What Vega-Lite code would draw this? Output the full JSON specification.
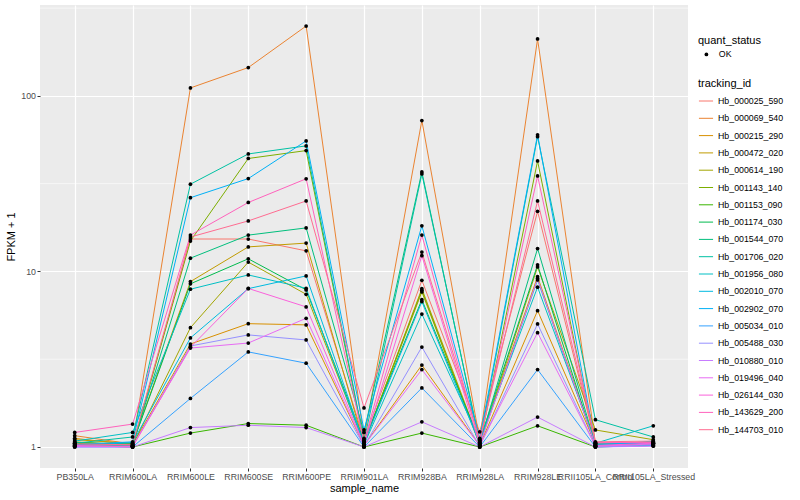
{
"$schema": "https://vega.github.io/schema/vega-lite/v6.json",
"width": 648, "height": 463,
"autosize": {"type": "none"},
"padding": {"left": 40, "top": 5, "right": 112, "bottom": 32},
"background": "white",
"config": {
 "view": {"fill": "#EBEBEB", "stroke": null},
 "font": "Liberation Sans",
 "axis": {"gridColor": "white", "gridWidth": 1.2, "domain": false, "tickColor": "#333333", "tickSize": 3, "labelColor": "#4D4D4D", "labelFontSize": 8.8, "titleFontSize": 11, "titleFontWeight": "normal", "titleColor": "black", "labelPadding": 1.5},
 "legend": {"titleFontSize": 11, "titleFontWeight": "normal", "titleColor": "black", "labelFontSize": 8.8, "labelColor": "black"}
},
"data": {"values": [
{"tracking_id":"Hb_000025_590","sample_name":"PB350LA","fpkm_plus_1":1.04,"quant_status":"OK"},
{"tracking_id":"Hb_000025_590","sample_name":"RRIM600LA","fpkm_plus_1":1.02,"quant_status":"OK"},
{"tracking_id":"Hb_000025_590","sample_name":"RRIM600LE","fpkm_plus_1":15.3,"quant_status":"OK"},
{"tracking_id":"Hb_000025_590","sample_name":"RRIM600SE","fpkm_plus_1":15.3,"quant_status":"OK"},
{"tracking_id":"Hb_000025_590","sample_name":"RRIM600PE","fpkm_plus_1":13.1,"quant_status":"OK"},
{"tracking_id":"Hb_000025_590","sample_name":"RRIM901LA","fpkm_plus_1":1.10,"quant_status":"OK"},
{"tracking_id":"Hb_000025_590","sample_name":"RRIM928BA","fpkm_plus_1":8.9,"quant_status":"OK"},
{"tracking_id":"Hb_000025_590","sample_name":"RRIM928LA","fpkm_plus_1":1.22,"quant_status":"OK"},
{"tracking_id":"Hb_000025_590","sample_name":"RRIM928LE","fpkm_plus_1":22.0,"quant_status":"OK"},
{"tracking_id":"Hb_000025_590","sample_name":"RRII105LA_Control","fpkm_plus_1":1.05,"quant_status":"OK"},
{"tracking_id":"Hb_000025_590","sample_name":"RRII105LA_Stressed","fpkm_plus_1":1.06,"quant_status":"OK"},
{"tracking_id":"Hb_000069_540","sample_name":"PB350LA","fpkm_plus_1":1.16,"quant_status":"OK"},
{"tracking_id":"Hb_000069_540","sample_name":"RRIM600LA","fpkm_plus_1":1.04,"quant_status":"OK"},
{"tracking_id":"Hb_000069_540","sample_name":"RRIM600LE","fpkm_plus_1":111,"quant_status":"OK"},
{"tracking_id":"Hb_000069_540","sample_name":"RRIM600SE","fpkm_plus_1":145,"quant_status":"OK"},
{"tracking_id":"Hb_000069_540","sample_name":"RRIM600PE","fpkm_plus_1":250,"quant_status":"OK"},
{"tracking_id":"Hb_000069_540","sample_name":"RRIM901LA","fpkm_plus_1":1.12,"quant_status":"OK"},
{"tracking_id":"Hb_000069_540","sample_name":"RRIM928BA","fpkm_plus_1":72.4,"quant_status":"OK"},
{"tracking_id":"Hb_000069_540","sample_name":"RRIM928LA","fpkm_plus_1":1.10,"quant_status":"OK"},
{"tracking_id":"Hb_000069_540","sample_name":"RRIM928LE","fpkm_plus_1":211,"quant_status":"OK"},
{"tracking_id":"Hb_000069_540","sample_name":"RRII105LA_Control","fpkm_plus_1":1.06,"quant_status":"OK"},
{"tracking_id":"Hb_000069_540","sample_name":"RRII105LA_Stressed","fpkm_plus_1":1.04,"quant_status":"OK"},
{"tracking_id":"Hb_000215_290","sample_name":"PB350LA","fpkm_plus_1":1.12,"quant_status":"OK"},
{"tracking_id":"Hb_000215_290","sample_name":"RRIM600LA","fpkm_plus_1":1.03,"quant_status":"OK"},
{"tracking_id":"Hb_000215_290","sample_name":"RRIM600LE","fpkm_plus_1":3.86,"quant_status":"OK"},
{"tracking_id":"Hb_000215_290","sample_name":"RRIM600SE","fpkm_plus_1":5.04,"quant_status":"OK"},
{"tracking_id":"Hb_000215_290","sample_name":"RRIM600PE","fpkm_plus_1":4.96,"quant_status":"OK"},
{"tracking_id":"Hb_000215_290","sample_name":"RRIM901LA","fpkm_plus_1":1.02,"quant_status":"OK"},
{"tracking_id":"Hb_000215_290","sample_name":"RRIM928BA","fpkm_plus_1":2.93,"quant_status":"OK"},
{"tracking_id":"Hb_000215_290","sample_name":"RRIM928LA","fpkm_plus_1":1.02,"quant_status":"OK"},
{"tracking_id":"Hb_000215_290","sample_name":"RRIM928LE","fpkm_plus_1":5.98,"quant_status":"OK"},
{"tracking_id":"Hb_000215_290","sample_name":"RRII105LA_Control","fpkm_plus_1":1.04,"quant_status":"OK"},
{"tracking_id":"Hb_000215_290","sample_name":"RRII105LA_Stressed","fpkm_plus_1":1.03,"quant_status":"OK"},
{"tracking_id":"Hb_000472_020","sample_name":"PB350LA","fpkm_plus_1":1.10,"quant_status":"OK"},
{"tracking_id":"Hb_000472_020","sample_name":"RRIM600LA","fpkm_plus_1":1.05,"quant_status":"OK"},
{"tracking_id":"Hb_000472_020","sample_name":"RRIM600LE","fpkm_plus_1":8.75,"quant_status":"OK"},
{"tracking_id":"Hb_000472_020","sample_name":"RRIM600SE","fpkm_plus_1":13.8,"quant_status":"OK"},
{"tracking_id":"Hb_000472_020","sample_name":"RRIM600PE","fpkm_plus_1":14.5,"quant_status":"OK"},
{"tracking_id":"Hb_000472_020","sample_name":"RRIM901LA","fpkm_plus_1":1.04,"quant_status":"OK"},
{"tracking_id":"Hb_000472_020","sample_name":"RRIM928BA","fpkm_plus_1":7.98,"quant_status":"OK"},
{"tracking_id":"Hb_000472_020","sample_name":"RRIM928LA","fpkm_plus_1":1.06,"quant_status":"OK"},
{"tracking_id":"Hb_000472_020","sample_name":"RRIM928LE","fpkm_plus_1":9.34,"quant_status":"OK"},
{"tracking_id":"Hb_000472_020","sample_name":"RRII105LA_Control","fpkm_plus_1":1.03,"quant_status":"OK"},
{"tracking_id":"Hb_000472_020","sample_name":"RRII105LA_Stressed","fpkm_plus_1":1.05,"quant_status":"OK"},
{"tracking_id":"Hb_000614_190","sample_name":"PB350LA","fpkm_plus_1":1.07,"quant_status":"OK"},
{"tracking_id":"Hb_000614_190","sample_name":"RRIM600LA","fpkm_plus_1":1.02,"quant_status":"OK"},
{"tracking_id":"Hb_000614_190","sample_name":"RRIM600LE","fpkm_plus_1":4.78,"quant_status":"OK"},
{"tracking_id":"Hb_000614_190","sample_name":"RRIM600SE","fpkm_plus_1":11.3,"quant_status":"OK"},
{"tracking_id":"Hb_000614_190","sample_name":"RRIM600PE","fpkm_plus_1":7.41,"quant_status":"OK"},
{"tracking_id":"Hb_000614_190","sample_name":"RRIM901LA","fpkm_plus_1":1.05,"quant_status":"OK"},
{"tracking_id":"Hb_000614_190","sample_name":"RRIM928BA","fpkm_plus_1":7.64,"quant_status":"OK"},
{"tracking_id":"Hb_000614_190","sample_name":"RRIM928LA","fpkm_plus_1":1.04,"quant_status":"OK"},
{"tracking_id":"Hb_000614_190","sample_name":"RRIM928LE","fpkm_plus_1":10.6,"quant_status":"OK"},
{"tracking_id":"Hb_000614_190","sample_name":"RRII105LA_Control","fpkm_plus_1":1.25,"quant_status":"OK"},
{"tracking_id":"Hb_000614_190","sample_name":"RRII105LA_Stressed","fpkm_plus_1":1.10,"quant_status":"OK"},
{"tracking_id":"Hb_001143_140","sample_name":"PB350LA","fpkm_plus_1":1.05,"quant_status":"OK"},
{"tracking_id":"Hb_001143_140","sample_name":"RRIM600LA","fpkm_plus_1":1.01,"quant_status":"OK"},
{"tracking_id":"Hb_001143_140","sample_name":"RRIM600LE","fpkm_plus_1":14.9,"quant_status":"OK"},
{"tracking_id":"Hb_001143_140","sample_name":"RRIM600SE","fpkm_plus_1":44,"quant_status":"OK"},
{"tracking_id":"Hb_001143_140","sample_name":"RRIM600PE","fpkm_plus_1":48.8,"quant_status":"OK"},
{"tracking_id":"Hb_001143_140","sample_name":"RRIM901LA","fpkm_plus_1":1.06,"quant_status":"OK"},
{"tracking_id":"Hb_001143_140","sample_name":"RRIM928BA","fpkm_plus_1":7.81,"quant_status":"OK"},
{"tracking_id":"Hb_001143_140","sample_name":"RRIM928LA","fpkm_plus_1":1.03,"quant_status":"OK"},
{"tracking_id":"Hb_001143_140","sample_name":"RRIM928LE","fpkm_plus_1":42.6,"quant_status":"OK"},
{"tracking_id":"Hb_001143_140","sample_name":"RRII105LA_Control","fpkm_plus_1":1.02,"quant_status":"OK"},
{"tracking_id":"Hb_001143_140","sample_name":"RRII105LA_Stressed","fpkm_plus_1":1.07,"quant_status":"OK"},
{"tracking_id":"Hb_001153_090","sample_name":"PB350LA","fpkm_plus_1":1.02,"quant_status":"OK"},
{"tracking_id":"Hb_001153_090","sample_name":"RRIM600LA","fpkm_plus_1":1.00,"quant_status":"OK"},
{"tracking_id":"Hb_001153_090","sample_name":"RRIM600LE","fpkm_plus_1":1.20,"quant_status":"OK"},
{"tracking_id":"Hb_001153_090","sample_name":"RRIM600SE","fpkm_plus_1":1.36,"quant_status":"OK"},
{"tracking_id":"Hb_001153_090","sample_name":"RRIM600PE","fpkm_plus_1":1.33,"quant_status":"OK"},
{"tracking_id":"Hb_001153_090","sample_name":"RRIM901LA","fpkm_plus_1":1.00,"quant_status":"OK"},
{"tracking_id":"Hb_001153_090","sample_name":"RRIM928BA","fpkm_plus_1":1.20,"quant_status":"OK"},
{"tracking_id":"Hb_001153_090","sample_name":"RRIM928LA","fpkm_plus_1":1.00,"quant_status":"OK"},
{"tracking_id":"Hb_001153_090","sample_name":"RRIM928LE","fpkm_plus_1":1.32,"quant_status":"OK"},
{"tracking_id":"Hb_001153_090","sample_name":"RRII105LA_Control","fpkm_plus_1":1.00,"quant_status":"OK"},
{"tracking_id":"Hb_001153_090","sample_name":"RRII105LA_Stressed","fpkm_plus_1":1.02,"quant_status":"OK"},
{"tracking_id":"Hb_001174_030","sample_name":"PB350LA","fpkm_plus_1":1.06,"quant_status":"OK"},
{"tracking_id":"Hb_001174_030","sample_name":"RRIM600LA","fpkm_plus_1":1.04,"quant_status":"OK"},
{"tracking_id":"Hb_001174_030","sample_name":"RRIM600LE","fpkm_plus_1":8.5,"quant_status":"OK"},
{"tracking_id":"Hb_001174_030","sample_name":"RRIM600SE","fpkm_plus_1":11.8,"quant_status":"OK"},
{"tracking_id":"Hb_001174_030","sample_name":"RRIM600PE","fpkm_plus_1":7.85,"quant_status":"OK"},
{"tracking_id":"Hb_001174_030","sample_name":"RRIM901LA","fpkm_plus_1":1.08,"quant_status":"OK"},
{"tracking_id":"Hb_001174_030","sample_name":"RRIM928BA","fpkm_plus_1":6.9,"quant_status":"OK"},
{"tracking_id":"Hb_001174_030","sample_name":"RRIM928LA","fpkm_plus_1":1.08,"quant_status":"OK"},
{"tracking_id":"Hb_001174_030","sample_name":"RRIM928LE","fpkm_plus_1":10.9,"quant_status":"OK"},
{"tracking_id":"Hb_001174_030","sample_name":"RRII105LA_Control","fpkm_plus_1":1.01,"quant_status":"OK"},
{"tracking_id":"Hb_001174_030","sample_name":"RRII105LA_Stressed","fpkm_plus_1":1.04,"quant_status":"OK"},
{"tracking_id":"Hb_001544_070","sample_name":"PB350LA","fpkm_plus_1":1.03,"quant_status":"OK"},
{"tracking_id":"Hb_001544_070","sample_name":"RRIM600LA","fpkm_plus_1":1.02,"quant_status":"OK"},
{"tracking_id":"Hb_001544_070","sample_name":"RRIM600LE","fpkm_plus_1":11.9,"quant_status":"OK"},
{"tracking_id":"Hb_001544_070","sample_name":"RRIM600SE","fpkm_plus_1":16.1,"quant_status":"OK"},
{"tracking_id":"Hb_001544_070","sample_name":"RRIM600PE","fpkm_plus_1":17.7,"quant_status":"OK"},
{"tracking_id":"Hb_001544_070","sample_name":"RRIM901LA","fpkm_plus_1":1.21,"quant_status":"OK"},
{"tracking_id":"Hb_001544_070","sample_name":"RRIM928BA","fpkm_plus_1":36.9,"quant_status":"OK"},
{"tracking_id":"Hb_001544_070","sample_name":"RRIM928LA","fpkm_plus_1":1.05,"quant_status":"OK"},
{"tracking_id":"Hb_001544_070","sample_name":"RRIM928LE","fpkm_plus_1":13.5,"quant_status":"OK"},
{"tracking_id":"Hb_001544_070","sample_name":"RRII105LA_Control","fpkm_plus_1":1.03,"quant_status":"OK"},
{"tracking_id":"Hb_001544_070","sample_name":"RRII105LA_Stressed","fpkm_plus_1":1.06,"quant_status":"OK"},
{"tracking_id":"Hb_001706_020","sample_name":"PB350LA","fpkm_plus_1":1.05,"quant_status":"OK"},
{"tracking_id":"Hb_001706_020","sample_name":"RRIM600LA","fpkm_plus_1":1.14,"quant_status":"OK"},
{"tracking_id":"Hb_001706_020","sample_name":"RRIM600LE","fpkm_plus_1":31.4,"quant_status":"OK"},
{"tracking_id":"Hb_001706_020","sample_name":"RRIM600SE","fpkm_plus_1":46.7,"quant_status":"OK"},
{"tracking_id":"Hb_001706_020","sample_name":"RRIM600PE","fpkm_plus_1":51.9,"quant_status":"OK"},
{"tracking_id":"Hb_001706_020","sample_name":"RRIM901LA","fpkm_plus_1":1.08,"quant_status":"OK"},
{"tracking_id":"Hb_001706_020","sample_name":"RRIM928BA","fpkm_plus_1":35.9,"quant_status":"OK"},
{"tracking_id":"Hb_001706_020","sample_name":"RRIM928LA","fpkm_plus_1":1.07,"quant_status":"OK"},
{"tracking_id":"Hb_001706_020","sample_name":"RRIM928LE","fpkm_plus_1":58.6,"quant_status":"OK"},
{"tracking_id":"Hb_001706_020","sample_name":"RRII105LA_Control","fpkm_plus_1":1.43,"quant_status":"OK"},
{"tracking_id":"Hb_001706_020","sample_name":"RRII105LA_Stressed","fpkm_plus_1":1.14,"quant_status":"OK"},
{"tracking_id":"Hb_001956_080","sample_name":"PB350LA","fpkm_plus_1":1.08,"quant_status":"OK"},
{"tracking_id":"Hb_001956_080","sample_name":"RRIM600LA","fpkm_plus_1":1.21,"quant_status":"OK"},
{"tracking_id":"Hb_001956_080","sample_name":"RRIM600LE","fpkm_plus_1":7.92,"quant_status":"OK"},
{"tracking_id":"Hb_001956_080","sample_name":"RRIM600SE","fpkm_plus_1":9.55,"quant_status":"OK"},
{"tracking_id":"Hb_001956_080","sample_name":"RRIM600PE","fpkm_plus_1":8.02,"quant_status":"OK"},
{"tracking_id":"Hb_001956_080","sample_name":"RRIM901LA","fpkm_plus_1":1.03,"quant_status":"OK"},
{"tracking_id":"Hb_001956_080","sample_name":"RRIM928BA","fpkm_plus_1":5.72,"quant_status":"OK"},
{"tracking_id":"Hb_001956_080","sample_name":"RRIM928LA","fpkm_plus_1":1.09,"quant_status":"OK"},
{"tracking_id":"Hb_001956_080","sample_name":"RRIM928LE","fpkm_plus_1":8.13,"quant_status":"OK"},
{"tracking_id":"Hb_001956_080","sample_name":"RRII105LA_Control","fpkm_plus_1":1.05,"quant_status":"OK"},
{"tracking_id":"Hb_001956_080","sample_name":"RRII105LA_Stressed","fpkm_plus_1":1.32,"quant_status":"OK"},
{"tracking_id":"Hb_002010_070","sample_name":"PB350LA","fpkm_plus_1":1.02,"quant_status":"OK"},
{"tracking_id":"Hb_002010_070","sample_name":"RRIM600LA","fpkm_plus_1":1.06,"quant_status":"OK"},
{"tracking_id":"Hb_002010_070","sample_name":"RRIM600LE","fpkm_plus_1":4.18,"quant_status":"OK"},
{"tracking_id":"Hb_002010_070","sample_name":"RRIM600SE","fpkm_plus_1":7.98,"quant_status":"OK"},
{"tracking_id":"Hb_002010_070","sample_name":"RRIM600PE","fpkm_plus_1":9.43,"quant_status":"OK"},
{"tracking_id":"Hb_002010_070","sample_name":"RRIM901LA","fpkm_plus_1":1.05,"quant_status":"OK"},
{"tracking_id":"Hb_002010_070","sample_name":"RRIM928BA","fpkm_plus_1":6.73,"quant_status":"OK"},
{"tracking_id":"Hb_002010_070","sample_name":"RRIM928LA","fpkm_plus_1":1.04,"quant_status":"OK"},
{"tracking_id":"Hb_002010_070","sample_name":"RRIM928LE","fpkm_plus_1":8.95,"quant_status":"OK"},
{"tracking_id":"Hb_002010_070","sample_name":"RRII105LA_Control","fpkm_plus_1":1.02,"quant_status":"OK"},
{"tracking_id":"Hb_002010_070","sample_name":"RRII105LA_Stressed","fpkm_plus_1":1.08,"quant_status":"OK"},
{"tracking_id":"Hb_002902_070","sample_name":"PB350LA","fpkm_plus_1":1.03,"quant_status":"OK"},
{"tracking_id":"Hb_002902_070","sample_name":"RRIM600LA","fpkm_plus_1":1.07,"quant_status":"OK"},
{"tracking_id":"Hb_002902_070","sample_name":"RRIM600LE","fpkm_plus_1":26.3,"quant_status":"OK"},
{"tracking_id":"Hb_002902_070","sample_name":"RRIM600SE","fpkm_plus_1":33.8,"quant_status":"OK"},
{"tracking_id":"Hb_002902_070","sample_name":"RRIM600PE","fpkm_plus_1":55.4,"quant_status":"OK"},
{"tracking_id":"Hb_002902_070","sample_name":"RRIM901LA","fpkm_plus_1":1.25,"quant_status":"OK"},
{"tracking_id":"Hb_002902_070","sample_name":"RRIM928BA","fpkm_plus_1":18.2,"quant_status":"OK"},
{"tracking_id":"Hb_002902_070","sample_name":"RRIM928LA","fpkm_plus_1":1.12,"quant_status":"OK"},
{"tracking_id":"Hb_002902_070","sample_name":"RRIM928LE","fpkm_plus_1":60,"quant_status":"OK"},
{"tracking_id":"Hb_002902_070","sample_name":"RRII105LA_Control","fpkm_plus_1":1.04,"quant_status":"OK"},
{"tracking_id":"Hb_002902_070","sample_name":"RRII105LA_Stressed","fpkm_plus_1":1.05,"quant_status":"OK"},
{"tracking_id":"Hb_005034_010","sample_name":"PB350LA","fpkm_plus_1":1.00,"quant_status":"OK"},
{"tracking_id":"Hb_005034_010","sample_name":"RRIM600LA","fpkm_plus_1":1.00,"quant_status":"OK"},
{"tracking_id":"Hb_005034_010","sample_name":"RRIM600LE","fpkm_plus_1":1.89,"quant_status":"OK"},
{"tracking_id":"Hb_005034_010","sample_name":"RRIM600SE","fpkm_plus_1":3.48,"quant_status":"OK"},
{"tracking_id":"Hb_005034_010","sample_name":"RRIM600PE","fpkm_plus_1":3.0,"quant_status":"OK"},
{"tracking_id":"Hb_005034_010","sample_name":"RRIM901LA","fpkm_plus_1":1.00,"quant_status":"OK"},
{"tracking_id":"Hb_005034_010","sample_name":"RRIM928BA","fpkm_plus_1":2.17,"quant_status":"OK"},
{"tracking_id":"Hb_005034_010","sample_name":"RRIM928LA","fpkm_plus_1":1.00,"quant_status":"OK"},
{"tracking_id":"Hb_005034_010","sample_name":"RRIM928LE","fpkm_plus_1":2.76,"quant_status":"OK"},
{"tracking_id":"Hb_005034_010","sample_name":"RRII105LA_Control","fpkm_plus_1":1.00,"quant_status":"OK"},
{"tracking_id":"Hb_005034_010","sample_name":"RRII105LA_Stressed","fpkm_plus_1":1.02,"quant_status":"OK"},
{"tracking_id":"Hb_005488_030","sample_name":"PB350LA","fpkm_plus_1":1.01,"quant_status":"OK"},
{"tracking_id":"Hb_005488_030","sample_name":"RRIM600LA","fpkm_plus_1":1.01,"quant_status":"OK"},
{"tracking_id":"Hb_005488_030","sample_name":"RRIM600LE","fpkm_plus_1":3.76,"quant_status":"OK"},
{"tracking_id":"Hb_005488_030","sample_name":"RRIM600SE","fpkm_plus_1":4.35,"quant_status":"OK"},
{"tracking_id":"Hb_005488_030","sample_name":"RRIM600PE","fpkm_plus_1":4.07,"quant_status":"OK"},
{"tracking_id":"Hb_005488_030","sample_name":"RRIM901LA","fpkm_plus_1":1.01,"quant_status":"OK"},
{"tracking_id":"Hb_005488_030","sample_name":"RRIM928BA","fpkm_plus_1":3.71,"quant_status":"OK"},
{"tracking_id":"Hb_005488_030","sample_name":"RRIM928LA","fpkm_plus_1":1.01,"quant_status":"OK"},
{"tracking_id":"Hb_005488_030","sample_name":"RRIM928LE","fpkm_plus_1":5.02,"quant_status":"OK"},
{"tracking_id":"Hb_005488_030","sample_name":"RRII105LA_Control","fpkm_plus_1":1.01,"quant_status":"OK"},
{"tracking_id":"Hb_005488_030","sample_name":"RRII105LA_Stressed","fpkm_plus_1":1.03,"quant_status":"OK"},
{"tracking_id":"Hb_010880_010","sample_name":"PB350LA","fpkm_plus_1":1.00,"quant_status":"OK"},
{"tracking_id":"Hb_010880_010","sample_name":"RRIM600LA","fpkm_plus_1":1.00,"quant_status":"OK"},
{"tracking_id":"Hb_010880_010","sample_name":"RRIM600LE","fpkm_plus_1":1.29,"quant_status":"OK"},
{"tracking_id":"Hb_010880_010","sample_name":"RRIM600SE","fpkm_plus_1":1.33,"quant_status":"OK"},
{"tracking_id":"Hb_010880_010","sample_name":"RRIM600PE","fpkm_plus_1":1.29,"quant_status":"OK"},
{"tracking_id":"Hb_010880_010","sample_name":"RRIM901LA","fpkm_plus_1":1.00,"quant_status":"OK"},
{"tracking_id":"Hb_010880_010","sample_name":"RRIM928BA","fpkm_plus_1":1.39,"quant_status":"OK"},
{"tracking_id":"Hb_010880_010","sample_name":"RRIM928LA","fpkm_plus_1":1.00,"quant_status":"OK"},
{"tracking_id":"Hb_010880_010","sample_name":"RRIM928LE","fpkm_plus_1":1.48,"quant_status":"OK"},
{"tracking_id":"Hb_010880_010","sample_name":"RRII105LA_Control","fpkm_plus_1":1.00,"quant_status":"OK"},
{"tracking_id":"Hb_010880_010","sample_name":"RRII105LA_Stressed","fpkm_plus_1":1.01,"quant_status":"OK"},
{"tracking_id":"Hb_019496_040","sample_name":"PB350LA","fpkm_plus_1":1.01,"quant_status":"OK"},
{"tracking_id":"Hb_019496_040","sample_name":"RRIM600LA","fpkm_plus_1":1.01,"quant_status":"OK"},
{"tracking_id":"Hb_019496_040","sample_name":"RRIM600LE","fpkm_plus_1":3.66,"quant_status":"OK"},
{"tracking_id":"Hb_019496_040","sample_name":"RRIM600SE","fpkm_plus_1":3.91,"quant_status":"OK"},
{"tracking_id":"Hb_019496_040","sample_name":"RRIM600PE","fpkm_plus_1":5.41,"quant_status":"OK"},
{"tracking_id":"Hb_019496_040","sample_name":"RRIM901LA","fpkm_plus_1":1.02,"quant_status":"OK"},
{"tracking_id":"Hb_019496_040","sample_name":"RRIM928BA","fpkm_plus_1":2.76,"quant_status":"OK"},
{"tracking_id":"Hb_019496_040","sample_name":"RRIM928LA","fpkm_plus_1":1.02,"quant_status":"OK"},
{"tracking_id":"Hb_019496_040","sample_name":"RRIM928LE","fpkm_plus_1":4.48,"quant_status":"OK"},
{"tracking_id":"Hb_019496_040","sample_name":"RRII105LA_Control","fpkm_plus_1":1.01,"quant_status":"OK"},
{"tracking_id":"Hb_019496_040","sample_name":"RRII105LA_Stressed","fpkm_plus_1":1.04,"quant_status":"OK"},
{"tracking_id":"Hb_026144_030","sample_name":"PB350LA","fpkm_plus_1":1.02,"quant_status":"OK"},
{"tracking_id":"Hb_026144_030","sample_name":"RRIM600LA","fpkm_plus_1":1.00,"quant_status":"OK"},
{"tracking_id":"Hb_026144_030","sample_name":"RRIM600LE","fpkm_plus_1":3.70,"quant_status":"OK"},
{"tracking_id":"Hb_026144_030","sample_name":"RRIM600SE","fpkm_plus_1":8.0,"quant_status":"OK"},
{"tracking_id":"Hb_026144_030","sample_name":"RRIM600PE","fpkm_plus_1":6.28,"quant_status":"OK"},
{"tracking_id":"Hb_026144_030","sample_name":"RRIM901LA","fpkm_plus_1":1.03,"quant_status":"OK"},
{"tracking_id":"Hb_026144_030","sample_name":"RRIM928BA","fpkm_plus_1":12.3,"quant_status":"OK"},
{"tracking_id":"Hb_026144_030","sample_name":"RRIM928LA","fpkm_plus_1":1.03,"quant_status":"OK"},
{"tracking_id":"Hb_026144_030","sample_name":"RRIM928LE","fpkm_plus_1":9.1,"quant_status":"OK"},
{"tracking_id":"Hb_026144_030","sample_name":"RRII105LA_Control","fpkm_plus_1":1.02,"quant_status":"OK"},
{"tracking_id":"Hb_026144_030","sample_name":"RRII105LA_Stressed","fpkm_plus_1":1.05,"quant_status":"OK"},
{"tracking_id":"Hb_143629_200","sample_name":"PB350LA","fpkm_plus_1":1.21,"quant_status":"OK"},
{"tracking_id":"Hb_143629_200","sample_name":"RRIM600LA","fpkm_plus_1":1.35,"quant_status":"OK"},
{"tracking_id":"Hb_143629_200","sample_name":"RRIM600LE","fpkm_plus_1":16.1,"quant_status":"OK"},
{"tracking_id":"Hb_143629_200","sample_name":"RRIM600SE","fpkm_plus_1":24.7,"quant_status":"OK"},
{"tracking_id":"Hb_143629_200","sample_name":"RRIM600PE","fpkm_plus_1":33.7,"quant_status":"OK"},
{"tracking_id":"Hb_143629_200","sample_name":"RRIM901LA","fpkm_plus_1":1.07,"quant_status":"OK"},
{"tracking_id":"Hb_143629_200","sample_name":"RRIM928BA","fpkm_plus_1":16.1,"quant_status":"OK"},
{"tracking_id":"Hb_143629_200","sample_name":"RRIM928LA","fpkm_plus_1":1.06,"quant_status":"OK"},
{"tracking_id":"Hb_143629_200","sample_name":"RRIM928LE","fpkm_plus_1":35,"quant_status":"OK"},
{"tracking_id":"Hb_143629_200","sample_name":"RRII105LA_Control","fpkm_plus_1":1.06,"quant_status":"OK"},
{"tracking_id":"Hb_143629_200","sample_name":"RRII105LA_Stressed","fpkm_plus_1":1.06,"quant_status":"OK"},
{"tracking_id":"Hb_144703_010","sample_name":"PB350LA","fpkm_plus_1":1.04,"quant_status":"OK"},
{"tracking_id":"Hb_144703_010","sample_name":"RRIM600LA","fpkm_plus_1":1.03,"quant_status":"OK"},
{"tracking_id":"Hb_144703_010","sample_name":"RRIM600LE","fpkm_plus_1":15.7,"quant_status":"OK"},
{"tracking_id":"Hb_144703_010","sample_name":"RRIM600SE","fpkm_plus_1":19.4,"quant_status":"OK"},
{"tracking_id":"Hb_144703_010","sample_name":"RRIM600PE","fpkm_plus_1":25.2,"quant_status":"OK"},
{"tracking_id":"Hb_144703_010","sample_name":"RRIM901LA","fpkm_plus_1":1.67,"quant_status":"OK"},
{"tracking_id":"Hb_144703_010","sample_name":"RRIM928BA","fpkm_plus_1":12.9,"quant_status":"OK"},
{"tracking_id":"Hb_144703_010","sample_name":"RRIM928LA","fpkm_plus_1":1.10,"quant_status":"OK"},
{"tracking_id":"Hb_144703_010","sample_name":"RRIM928LE","fpkm_plus_1":25.2,"quant_status":"OK"},
{"tracking_id":"Hb_144703_010","sample_name":"RRII105LA_Control","fpkm_plus_1":1.07,"quant_status":"OK"},
{"tracking_id":"Hb_144703_010","sample_name":"RRII105LA_Stressed","fpkm_plus_1":1.08,"quant_status":"OK"}
]},
"encoding": {
 "x": {"field": "sample_name", "type": "nominal",
  "sort": ["PB350LA","RRIM600LA","RRIM600LE","RRIM600SE","RRIM600PE","RRIM901LA","RRIM928BA","RRIM928LA","RRIM928LE","RRII105LA_Control","RRII105LA_Stressed"],
  "scale": {"type": "point", "padding": 0.6},
  "axis": {"labelAngle": 0, "labelOverlap": false, "titlePadding": 1, "grid": true}},
 "y": {"field": "fpkm_plus_1", "type": "quantitative", "title": "FPKM + 1",
  "scale": {"type": "log", "domain": [0.759, 329.4], "nice": false, "zero": false},
  "axis": {"values": [1, 10, 100], "format": "~g", "titlePadding": 4, "grid": true}}
},
"layer": [
 {"data": {"values": [{"minor_break": 3.1623}, {"minor_break": 31.623}, {"minor_break": 316.23}]},
  "mark": {"type": "rule", "stroke": "white", "strokeWidth": 0.6},
  "encoding": {"x": null, "y": {"field": "minor_break", "type": "quantitative", "scale": {"type": "log", "domain": [0.759, 329.4], "nice": false, "zero": false}, "axis": {"values": [1, 10, 100], "format": "~g", "titlePadding": 4, "grid": true, "title": "FPKM + 1"}}}},
 {"mark": {"type": "line", "strokeWidth": 1},
  "encoding": {"color": {"field": "tracking_id", "type": "nominal",
   "scale": {"domain": ["Hb_000025_590","Hb_000069_540","Hb_000215_290","Hb_000472_020","Hb_000614_190","Hb_001143_140","Hb_001153_090","Hb_001174_030","Hb_001544_070","Hb_001706_020","Hb_001956_080","Hb_002010_070","Hb_002902_070","Hb_005034_010","Hb_005488_030","Hb_010880_010","Hb_019496_040","Hb_026144_030","Hb_143629_200","Hb_144703_010"],
    "range": ["#F8766D","#EA8331","#D89000","#C09B00","#A3A500","#7CAE00","#39B600","#00BB4E","#00BF7D","#00C1A3","#00BFC4","#00BAE0","#00B0F6","#35A2FF","#9590FF","#C77CFF","#E76BF3","#FA62DB","#FF62BC","#FF6C91"]},
   "legend": {"orient": "none", "legendX": 658, "legendY": 73, "symbolType": "stroke", "symbolSize": 200, "symbolStrokeWidth": 1, "rowPadding": 4.3, "titlePadding": 4, "labelOffset": 4}}}},
 {"mark": {"type": "point", "filled": true, "color": "black", "opacity": 1, "size": 14},
  "encoding": {"shape": {"field": "quant_status", "type": "nominal", "scale": {"range": ["circle"]},
   "legend": {"orient": "none", "legendX": 658, "legendY": 30, "symbolSize": 14, "symbolFillColor": "black", "symbolStrokeColor": "black", "symbolOffset": 4, "labelOffset": 8, "titlePadding": 4}}}}
]
}
